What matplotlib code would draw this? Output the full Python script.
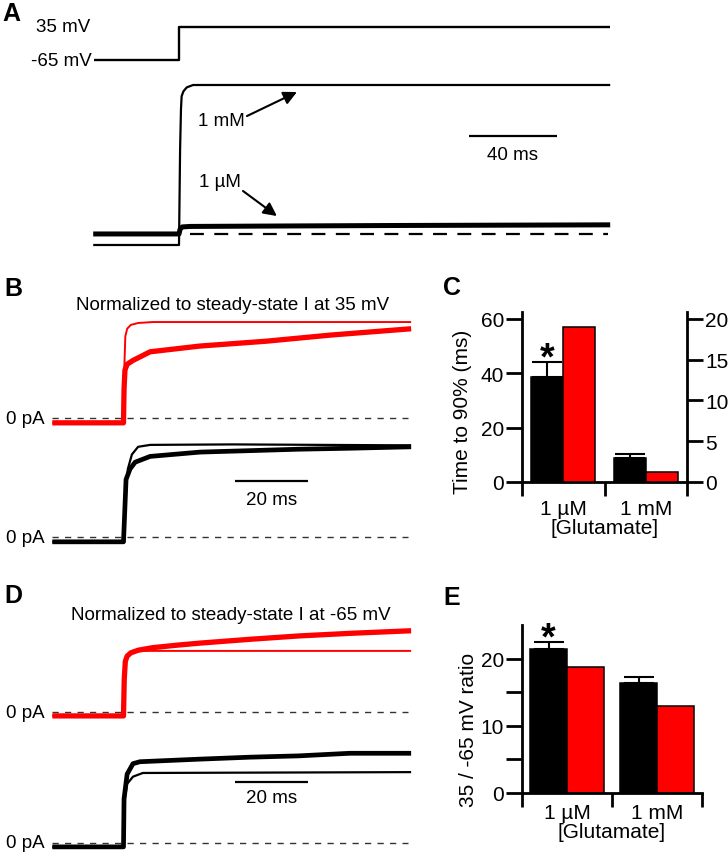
"""plot.py — voltage-step / glutamate figure, panels A–E."""
import numpy as np
import matplotlib
matplotlib.use("Agg")
import matplotlib.pyplot as plt

plt.rcParams.update({
    "font.family": ["Liberation Sans", "DejaVu Sans"],
    "font.size": 13.5,
    "lines.solid_capstyle": "butt",
    "lines.scale_dashes": False,
    "axes.linewidth": 2.0,
})

W, H = 728, 853
RED = "#ff0000"

# ---- A: voltage step and currents (ms, step at t=0; current in units of 1 mM plateau)
A_VSTEP_T = [-38.5, 0, 0, 196]
A_VSTEP_MV = [-65, -65, 35, 35]
A_1MM_T = [-39, 0, 0.5, 0.9, 1.2, 2.0, 3.5, 6.4, 196]
A_1MM_I = [0, 0, 0.6, 0.85, 0.93, 0.96, 0.985, 1.0, 1.0]
A_1UM_T = [-39, 0, 0.5, 1.5, 5, 50, 100, 196]
A_1UM_I = [0, 0, 0.03, 0.044, 0.047, 0.05, 0.053, 0.057]
A_1UM_OFFSET = 0.069

# ---- B: normalized to steady-state I at 35 mV
B_RED_THICK_T = [-19.5, 0, 0.15, 0.4, 1.0, 2.6, 7.3, 21, 39, 57, 78.8]
B_RED_THICK_I = [-0.05, -0.05, 0.3, 0.5, 0.56, 0.6, 0.69, 0.75, 0.80, 0.865, 0.93]
B_RED_THIN_T = [-19.5, 0, 0.2, 0.5, 1.0, 2.0, 4.0, 8.0, 78.8]
B_RED_THIN_I = [-0.05, -0.05, 0.5, 0.85, 0.93, 0.97, 0.99, 1.0, 1.0]
B_BLK_THIN_T = [-19.5, 0, 0.4, 1.2, 2.3, 4, 7.3, 30, 78.8]
B_BLK_THIN_I = [-0.05, -0.05, 0.4, 0.71, 0.86, 0.94, 0.96, 0.965, 0.955]
B_BLK_THICK_T = [-19.5, 0, 0.7, 1.8, 3.2, 7.3, 21, 34.7, 48, 62, 78.8]
B_BLK_THICK_I = [-0.05, -0.05, 0.6, 0.71, 0.78, 0.84, 0.885, 0.9, 0.915, 0.925, 0.94]
B_BLK_OFFSET = -1.24

# ---- D: normalized to steady-state I at -65 mV
D_RED_THIN_T = [-19.5, 0, 0.2, 0.5, 1, 2, 4, 78.8]
D_RED_THIN_I = [-0.06, -0.06, 0.5, 0.8, 0.88, 0.92, 0.94, 0.94]
D_RED_THICK_T = [-19.5, 0, 0.2, 0.5, 1, 2, 4, 8, 15, 21, 35, 48, 62, 78.8]
D_RED_THICK_I = [-0.06, -0.06, 0.5, 0.78, 0.86, 0.91, 0.95, 0.99, 1.03, 1.06, 1.12, 1.17, 1.21, 1.25]
D_BLK_THICK_T = [-19.5, 0, 0.15, 1, 2.6, 4.5, 21, 34.7, 48, 62, 78.8]
D_BLK_THICK_I = [-0.06, -0.06, 0.68, 1.06, 1.22, 1.25, 1.29, 1.32, 1.34, 1.38, 1.38]
D_BLK_THIN_T = [-19.5, 0, 0.15, 1, 2.6, 5.3, 78.8]
D_BLK_THIN_I = [-0.06, -0.06, 0.6, 0.91, 1.02, 1.077, 1.09]
D_BLK_OFFSET = -2.015

# ---- C / E bars
GROUPS = ["1 \u00b5M", "1 mM"]
C_BLACK = [38.6, 8.8]
C_BLACK_ERR = [5.6, 1.5]
C_RED = [19.0, 1.23]          # right axis
C_LEFT_TICKS = [0, 20, 40, 60]
C_RIGHT_TICKS = [0, 5, 10, 15, 20]
E_BLACK = [21.4, 16.3]
E_BLACK_ERR = [1.1, 1.0]
E_RED = [18.7, 13.0]
E_TICKS = [0, 5, 10, 15, 20]
E_TICKLABELS = ["0", "", "10", "", "20"]

BAR_FS = 15


def px_axes(fig, left, top, right, bottom):
    ax = fig.add_axes([left / W, 1 - bottom / H, (right - left) / W, (bottom - top) / H])
    return ax


def fig_text(fig, x, y, s, **kw):
    fig.text(x / W, 1 - y / H, s, ha=kw.pop("ha", "center"), va=kw.pop("va", "center"), **kw)


def panel_a(fig):
    axv = px_axes(fig, 91, 23.05, 619, 65.95)
    axv.set_xlim(-40, 200)
    axv.set_ylim(-80, 50)
    axv.axis("off")
    axv.plot(A_VSTEP_T, A_VSTEP_MV, color="k", lw=1.7)
    axv.text(-40.5, 35, "35 mV", ha="right", va="center", clip_on=False)
    axv.text(-39.5, -65, "-65 mV", ha="right", va="center", clip_on=False)

    ax = px_axes(fig, 91, 70, 619, 262)
    ax.set_xlim(-40, 200)
    ax.set_ylim(-0.1, 1.1)
    ax.axis("off")
    ax.plot(A_1MM_T, A_1MM_I, color="k", lw=1.6)
    ax.plot(A_1UM_T, np.array(A_1UM_I) + A_1UM_OFFSET, color="k", lw=3.6)
    ax.plot([5, 195], [A_1UM_OFFSET] * 2, color="k", lw=1.6, dashes=(10, 7.5))
    # 40 ms scale bar
    ax.plot([131.8, 171.8], [0.681, 0.681], color="k", lw=1.6)
    ax.text(151.8, 0.5625, "40 ms", ha="center", va="center")
    arrow = dict(arrowstyle="-|>", lw=1.5, color="k", mutation_scale=20, shrinkA=0, shrinkB=0)
    ax.annotate("", xy=(53.6, 0.956), xytext=(30.9, 0.806), arrowprops=arrow)
    ax.text(19.1, 0.775, "1 mM", ha="center", va="center")
    ax.annotate("", xy=(44.5, 0.181), xytext=(29.1, 0.3375), arrowprops=arrow)
    ax.text(18.6, 0.394, "1 \u00b5M", ha="center", va="center")


def trace_panel(ax, red_thin, red_thick, blk_thin, blk_thick, blk_off, bar_y, label_y):
    ax.set_xlim(-20, 80)
    ax.axis("off")
    for y in (0, blk_off):
        ax.plot([-19.5, 78], [y, y], color="#333333", lw=1.0, dashes=(4.5, 4.5))
        ax.text(-21.5, y, "0 pA", ha="right", va="center", clip_on=False)
    ax.plot(red_thin[0], red_thin[1], color=RED, lw=1.4)
    ax.plot(red_thick[0], red_thick[1], color=RED, lw=3.8)
    ax.plot(blk_thin[0], np.array(blk_thin[1]) + blk_off, color="k", lw=1.6)
    ax.plot(blk_thick[0], np.array(blk_thick[1]) + blk_off, color="k", lw=3.4)
    ax.plot([30.5, 50.5], [bar_y, bar_y], color="k", lw=1.6)
    ax.text(40.5, label_y, "20 ms", ha="center", va="center")


def style_bar_axes(ax, pad):
    ax.set_xlim(-0.5, 1.5)
    ax.spines["top"].set_visible(False)
    ax.set_xticks([0, 1])
    ax.set_xticklabels(GROUPS, fontsize=BAR_FS)
    ax.tick_params(axis="x", which="major", length=0, pad=pad)
    ax.set_xticks([-0.5, 0.5, 1.5], minor=True)
    ax.tick_params(axis="x", which="minor", length=10, width=2, direction="out")
    ax.tick_params(axis="y", length=11.5, width=2, direction="out", pad=1.5, labelsize=BAR_FS)
    ax.set_xlabel("[Glutamate]", fontsize=BAR_FS, labelpad=0)


def bars(ax, black, black_err, red_ax, red, w, star_y_off=-4.5):
    x = np.arange(len(black))
    ax.errorbar(x - w / 2, black, yerr=[np.zeros(len(black)), black_err], fmt="none",
                ecolor="k", elinewidth=1.5, capsize=11, capthick=1.5, zorder=1)
    ax.bar(x - w / 2, black, w, color="k", edgecolor="k", linewidth=1.1, zorder=2)
    red_ax.bar(x + w / 2, red, w, color=RED, edgecolor="k", linewidth=1.1, zorder=2)
    top = black[0] + black_err[0]
    ax.annotate("*", xy=(-w / 2, top), xytext=(0, star_y_off), textcoords="offset points",
                ha="center", va="baseline", fontsize=27, fontweight="bold")


def panel_c(fig):
    ax = px_axes(fig, 522, 313, 687, 483)
    ax.set_ylim(0, 62.5)
    ax.set_yticks(C_LEFT_TICKS)
    style_bar_axes(ax, pad=12)
    ax.spines["right"].set_visible(False)
    ax2 = ax.twinx()
    ax2.set_ylim(0, 62.5 / 3)
    ax2.set_yticks(C_RIGHT_TICKS)
    for s in ("top", "left", "bottom"):
        ax2.spines[s].set_visible(False)
    ax2.tick_params(axis="y", length=11.5, width=2, direction="out", pad=1.5, labelsize=BAR_FS)
    bars(ax, C_BLACK, C_BLACK_ERR, ax2, C_RED, 0.39)
    ax.set_ylabel("Time to 90% (ms)", fontsize=BAR_FS)
    ax.yaxis.set_label_coords(-0.30, 0.42)


def panel_e(fig):
    ax = px_axes(fig, 522, 626, 702, 794)
    ax.set_ylim(0, 25)
    ax.set_yticks(E_TICKS)
    ax.set_yticklabels(E_TICKLABELS)
    style_bar_axes(ax, pad=7)
    ax.spines["right"].set_visible(False)
    bars(ax, E_BLACK, E_BLACK_ERR, ax, E_RED, 0.41)
    ax.set_ylabel("35 / -65 mV ratio", fontsize=BAR_FS)
    ax.yaxis.set_label_coords(-0.245, 0.38)


def main():
    fig = plt.figure(figsize=(W / 100, H / 100), dpi=100)

    panel_a(fig)

    axb = px_axes(fig, 50.5, 309.6, 415.5, 550.5)
    axb.set_ylim(-1.37, 1.14)
    trace_panel(axb, (B_RED_THIN_T, B_RED_THIN_I), (B_RED_THICK_T, B_RED_THICK_I),
                (B_BLK_THIN_T, B_BLK_THIN_I), (B_BLK_THICK_T, B_BLK_THICK_I),
                B_BLK_OFFSET, -0.656, -0.844)

    axd = px_axes(fig, 50.5, 625.25, 415.5, 854.7)
    axd.set_ylim(-2.18, 1.35)
    trace_panel(axd, (D_RED_THIN_T, D_RED_THIN_I), (D_RED_THICK_T, D_RED_THICK_I),
                (D_BLK_THIN_T, D_BLK_THIN_I), (D_BLK_THICK_T, D_BLK_THICK_I),
                D_BLK_OFFSET, -1.077, -1.323)

    panel_c(fig)
    panel_e(fig)

    fig_text(fig, 233, 306, "Normalized to steady-state I at 35 mV")
    fig_text(fig, 231, 615, "Normalized to steady-state I at -65 mV")
    for letter, x, y in [("A", 11, 14), ("B", 13, 289), ("C", 452, 288),
                         ("D", 13, 596), ("E", 452, 598)]:
        fig_text(fig, x, y, letter, fontsize=18, fontweight="bold")

    fig.savefig("out.png", dpi=100)
    plt.close(fig)


if __name__ == "__main__":
    main()
